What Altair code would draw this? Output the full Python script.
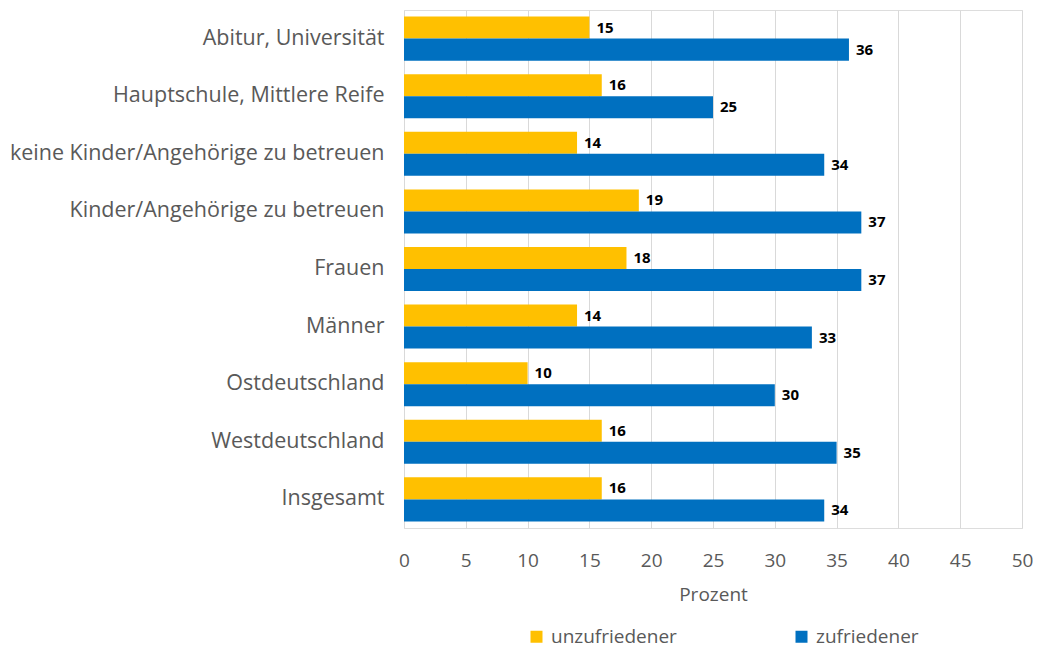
import altair as alt
import pandas as pd

categories = [
    "Abitur, Universität",
    "Hauptschule, Mittlere Reife",
    "keine Kinder/Angehörige zu betreuen",
    "Kinder/Angehörige zu betreuen",
    "Frauen",
    "Männer",
    "Ostdeutschland",
    "Westdeutschland",
    "Insgesamt",
]
series = ["unzufriedener", "zufriedener"]
unzufriedener = [15, 16, 14, 19, 18, 14, 10, 16, 16]
zufriedener = [36, 25, 34, 37, 37, 33, 30, 35, 34]
colors = ["#FFC000", "#0070C0"]

rows = []
for c, u, z in zip(categories, unzufriedener, zufriedener):
    rows.append({"Kategorie": c, "Serie": series[0], "Wert": u})
    rows.append({"Kategorie": c, "Serie": series[1], "Wert": z})
df = pd.DataFrame(rows)

FONT = "Open Sans"

y = alt.Y(
    "Kategorie:N",
    sort=categories,
    title=None,
    scale=alt.Scale(paddingInner=0.236, paddingOuter=0.115),
    axis=alt.Axis(
        ticks=False, domain=False, labelFontSize=21.5, labelColor="#595959",
        labelFont=FONT, labelPadding=20, labelLimit=420,
    ),
)
yoff = alt.YOffset("Serie:N", sort=series)
x = alt.X(
    "Wert:Q",
    title="Prozent",
    scale=alt.Scale(domain=[0, 50], nice=False),
    axis=alt.Axis(
        values=list(range(0, 51, 5)), ticks=False, domain=False, labelFlush=False,
        grid=True, gridColor="#D9D9D9", gridWidth=1,
        labelFontSize=19, labelColor="#595959", labelFont=FONT, labelPadding=23,
        titleFontSize=19, titleColor="#595959", titleFont=FONT, titleFontWeight="normal",
        titlePadding=15,
    ),
)

bars = alt.Chart(df).mark_bar().encode(
    x=x,
    y=y,
    yOffset=yoff,
    color=alt.Color(
        "Serie:N",
        sort=series,
        scale=alt.Scale(domain=series, range=colors),
        legend=alt.Legend(
            title=None, orient="none", direction="horizontal",
            legendX=123, legendY=617,
            symbolType="square", symbolSize=144, symbolStrokeWidth=0,
            labelFontSize=19, labelColor="#595959", labelFont=FONT,
            columnPadding=115, labelOffset=5,
        ),
    ),
)

labels = alt.Chart(df).mark_text(
    align="left", baseline="middle", dx=7, fontSize=15, fontWeight="bold",
    color="#000000", font=FONT,
).encode(
    x="Wert:Q",
    y=alt.Y("Kategorie:N", sort=categories),
    yOffset=alt.YOffset("Serie:N", sort=series),
    text="Wert:Q",
)

chart = (
    alt.layer(bars, labels)
    .properties(
        width=618, height=518,
        autosize=alt.AutoSizeParams(type="none"),
        padding={"left": 396, "top": 2, "right": 11, "bottom": 120},
    )
    .configure_view(stroke=None)
    .configure(background="white")
)

chart.save("out.html", embed_options={"renderer": "svg", "actions": False})
